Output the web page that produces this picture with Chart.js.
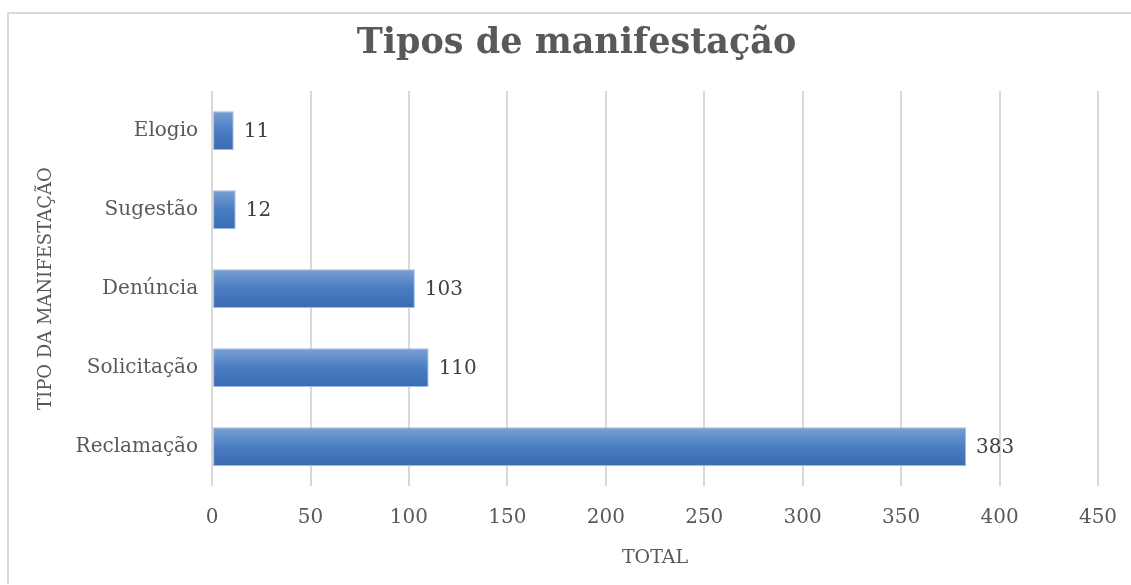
<!DOCTYPE html>
<html>
<head>
<meta charset="utf-8">
<script src="https://cdn.jsdelivr.net/npm/chart.js@4.4.1/dist/chart.umd.min.js"></script>
<style>
    html, body { margin: 0; padding: 0; background: #fff; overflow: hidden; }
    #frame { position: absolute; left: 7px; top: 12px; right: 0; bottom: 1px; border-top: 2px solid #d9d9d9; border-left: 2px solid #d9d9d9; }
    #wrap { position: absolute; left: 0; top: 0; width: 1131px; height: 585px; }
</style>
</head>
<body>
<div id="frame"></div>
<div id="wrap"><canvas id="tiposChart" width="1131" height="585"></canvas></div>
<script>
const categorias = ['Elogio', 'Sugestão', 'Denúncia', 'Solicitação', 'Reclamação'];
const totais = [11, 12, 103, 110, 383];
const escalaX = { min: 0, max: 450, step: 50 };

const fonte = '"DejaVu Serif", serif';
const barPct = 0.49;

// gradiente vertical por barra, como no Excel
const gradienteBarra = (context) => {
    const chart = context.chart;
    const y = chart.scales && chart.scales.y;
    if (!chart.chartArea || !y) return '#4a7cc0';
    const centro = y.getPixelForValue(context.dataIndex);
    const meia = (y.height / categorias.length) * barPct / 2;
    const g = chart.ctx.createLinearGradient(0, centro - meia, 0, centro + meia);
    g.addColorStop(0, '#7aa0d4');
    g.addColorStop(0.5, '#4a7dc2');
    g.addColorStop(1, '#3a6bb2');
    return g;
};

const rotulosValor = {
    id: 'rotulosValor',
    afterDatasetsDraw(chart) {
        const ctx = chart.ctx;
        const meta = chart.getDatasetMeta(0);
        ctx.save();
        ctx.font = '20px ' + fonte;
        ctx.fillStyle = '#404040';
        ctx.textAlign = 'left';
        ctx.textBaseline = 'middle';
        meta.data.forEach((bar, i) => {
            ctx.fillText(String(totais[i]), bar.x + 10, bar.y + 1);
        });
        ctx.restore();
    }
};

const ctx = document.getElementById('tiposChart').getContext('2d');
new Chart(ctx, {
    type: 'bar',
    data: {
        labels: categorias,
        datasets: [{
            label: 'Total',
            data: totais,
            backgroundColor: gradienteBarra,
            borderColor: '#9dbbe2',
            borderWidth: 1,
            borderSkipped: false,
            categoryPercentage: 1,
            barPercentage: barPct
        }]
    },
    options: {
        indexAxis: 'y',
        responsive: false,
        animation: false,
        layout: { padding: { left: 32, right: 10, top: 6, bottom: 16 } },
        plugins: {
            legend: { display: false },
            tooltip: { enabled: false },
            title: {
                display: true,
                text: 'Tipos de manifestação',
                color: '#595959',
                font: { family: fonte, size: 35, weight: 'bold' },
                padding: { top: 17, bottom: 26 }
            }
        },
        scales: {
            x: {
                min: escalaX.min,
                max: escalaX.max,
                afterFit: (scale) => { scale.paddingRight = 33; },
                ticks: {
                    stepSize: escalaX.step,
                    color: '#595959',
                    font: { family: fonte, size: 20 },
                    padding: 20
                },
                grid: { color: '#d9d9d9', lineWidth: 2, drawTicks: false },
                border: { display: false },
                title: {
                    display: true,
                    text: 'TOTAL',
                    color: '#595959',
                    font: { family: fonte, size: 19 },
                    padding: { top: -4, bottom: 0 }
                }
            },
            y: {
                ticks: {
                    color: '#595959',
                    font: { family: fonte, size: 20 },
                    padding: 14
                },
                grid: { display: false, drawTicks: false },
                border: { display: false },
                title: {
                    display: true,
                    text: 'TIPO DA MANIFESTAÇÃO',
                    color: '#595959',
                    font: { family: fonte, size: 18 },
                    padding: { bottom: 4 }
                }
            }
        }
    },
    plugins: [rotulosValor]
});
</script>
</body>
</html>
